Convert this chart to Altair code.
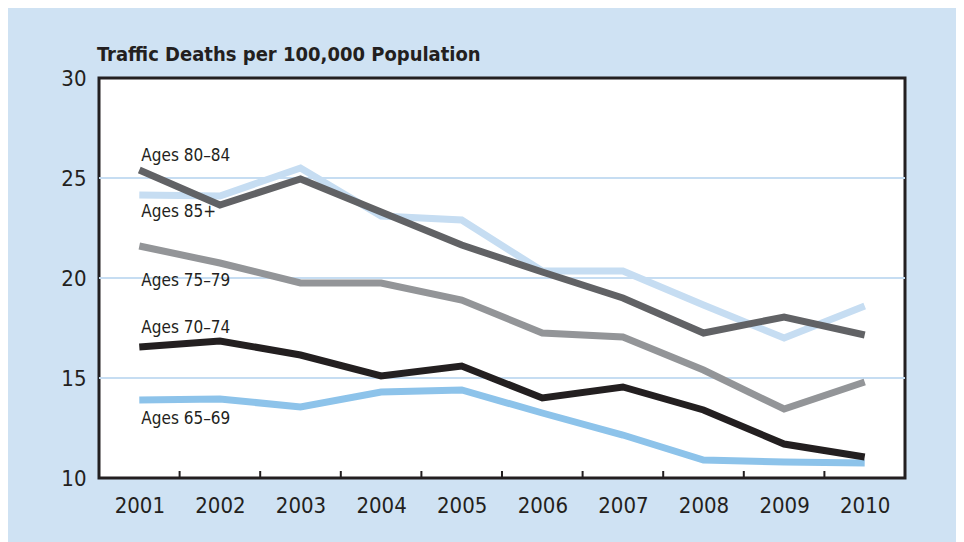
import altair as alt
import pandas as pd

years = [2001, 2002, 2003, 2004, 2005, 2006, 2007, 2008, 2009, 2010]
ages_85_plus = [24.15, 24.1, 25.5, 23.1, 22.9, 20.35, 20.35, 18.65, 17.0, 18.6]
ages_65_69 = [13.9, 13.95, 13.55, 14.3, 14.4, 13.25, 12.15, 10.9, 10.8, 10.75]
ages_75_79 = [21.6, 20.75, 19.75, 19.75, 18.9, 17.25, 17.05, 15.4, 13.45, 14.8]
ages_70_74 = [16.55, 16.85, 16.15, 15.1, 15.6, 14.0, 14.55, 13.4, 11.7, 11.05]
ages_80_84 = [25.4, 23.65, 24.95, 23.3, 21.65, 20.3, 19.0, 17.25, 18.05, 17.15]

series_names = ["Ages 85+", "Ages 65–69", "Ages 75–79", "Ages 70–74", "Ages 80–84"]
series_values = [ages_85_plus, ages_65_69, ages_75_79, ages_70_74, ages_80_84]
series_colors = ["#c6ddf2", "#8dc3ea", "#939598", "#231f20", "#616265"]

label_texts = ["Ages 80–84", "Ages 85+", "Ages 75–79", "Ages 70–74", "Ages 65–69"]
label_years = [2001, 2001, 2001, 2001, 2001]
label_values = [25.85, 23.05, 19.62, 17.25, 12.7]

y_ticks = [10, 15, 20, 25, 30]
grid_values = [15, 20, 25]
x_tick_marks = [2001.5, 2002.5, 2003.5, 2004.5, 2005.5, 2006.5, 2007.5, 2008.5, 2009.5]

FONT = "Liberation Sans Narrow, DejaVu Sans Condensed, sans-serif"
BG = "#cfe2f3"

rows = []
for order, (name, vals) in enumerate(zip(series_names, series_values)):
    for yr, v in zip(years, vals):
        rows.append({"year": yr, "value": v, "series": name, "order": order})
df = pd.DataFrame(rows)

labels_df = pd.DataFrame({"year": label_years, "value": label_values, "label": label_texts})
ticks_df = pd.DataFrame({"pos": x_tick_marks})
grid_df = pd.DataFrame({"g": grid_values})

x_scale = alt.Scale(domain=[2000.5, 2010.5], nice=False, zero=False)
y_scale = alt.Scale(domain=[10, 30], nice=False, zero=False)

grid = alt.Chart(grid_df).mark_rule(color="#c6ddf2", strokeWidth=2).encode(
    y=alt.Y("g:Q", scale=y_scale,
            axis=alt.Axis(values=y_ticks, title=None, grid=False, ticks=False, domain=False,
                          labelFontSize=22, labelPadding=13, labelFont=FONT,
                          labelColor="#231f20")),
)

lines = alt.Chart(df).mark_line(strokeWidth=7, strokeCap="butt", strokeJoin="miter").encode(
    x=alt.X("year:Q", scale=x_scale,
            axis=alt.Axis(values=years, format="d", title=None, grid=False, ticks=False,
                          domain=False, labelFontSize=22, labelPadding=17,
                          labelFont=FONT, labelColor="#231f20")),
    y=alt.Y("value:Q", scale=y_scale),
    color=alt.Color("series:N", scale=alt.Scale(domain=series_names, range=series_colors), legend=None),
    order=alt.Order("order:Q"),
)

texts = alt.Chart(labels_df).mark_text(
    align="left", baseline="alphabetic", font=FONT, fontSize=17, color="#231f20", dx=2
).encode(
    x=alt.X("year:Q", scale=x_scale),
    y=alt.Y("value:Q", scale=y_scale),
    text="label:N",
)

tick_rules = alt.Chart(ticks_df).mark_rule(color="#231f20", strokeWidth=2).encode(
    x=alt.X("pos:Q", scale=x_scale),
    y=alt.value(400),
    y2=alt.value(393),
)

chart = alt.layer(grid, lines, tick_rules, texts).properties(
    width=806,
    height=400,
    background=BG,
    padding={"left": 91, "top": 70, "right": 51, "bottom": 64},
    autosize=alt.AutoSizeParams(type="none"),
    title=alt.TitleParams(
        "Traffic Deaths per 100,000 Population",
        anchor="start", frame="group", font=FONT, fontSize=20, fontWeight="bold",
        color="#231f20", offset=-14, baseline="alphabetic", dx=-2,
    ),
).configure_view(
    fill="white", stroke="#231f20", strokeWidth=3
)

chart.save("out.html", embed_options={"renderer": "svg", "actions": False})
